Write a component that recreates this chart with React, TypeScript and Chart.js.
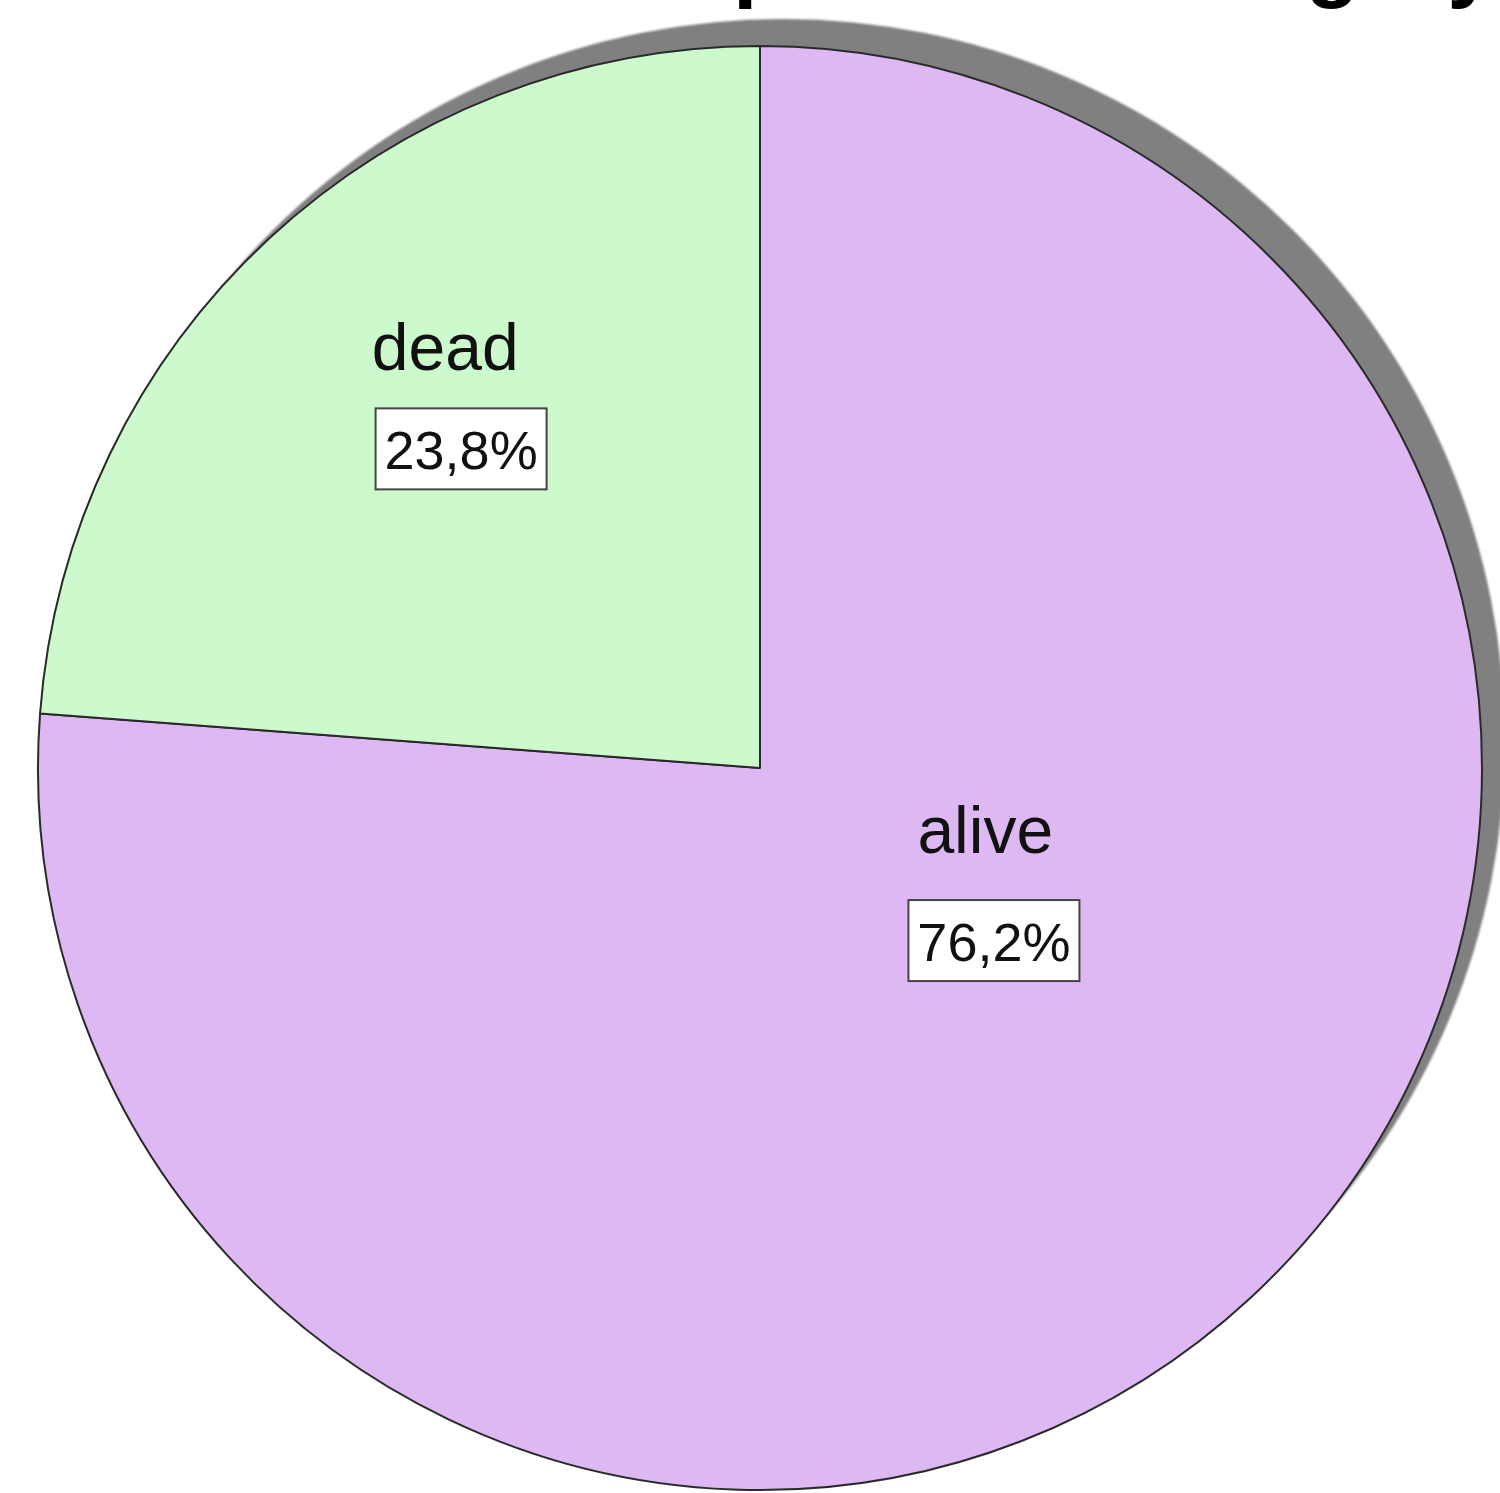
import React, { useEffect, useRef } from "react";
import { Chart, registerables } from "chart.js";

Chart.register(...registerables);

// Outcome categories and their share of patients (%)
const categories = ["alive", "dead"];
const percentages = [76.2, 23.8];
const sliceColors = ["#DDB8F2", "#CCFACC"];

const titleText = "Survival status per renal category";

// Label placement, in units of the pie radius, relative to the pie centre
const namePlacement = [
  [0.312, 0.118],
  [-0.436, -0.551],
];
const boxPlacement = [
  [0.324, 0.239],
  [-0.414, -0.442],
];

const FONT = "'Liberation Sans', Arial, Helvetica, sans-serif";

const formatPercent = (v: number) => v.toFixed(1).replace(".", ",") + "%";

const shadowPlugin = {
  id: "pieShadow",
  beforeDatasetsDraw(chart: any) {
    const arc = chart.getDatasetMeta(0).data[0];
    if (!arc) return;
    const ctx = chart.ctx;
    ctx.save();
    ctx.fillStyle = "#808080";
    ctx.filter = "blur(1px)";
    ctx.beginPath();
    ctx.arc(arc.x + 23, arc.y - 27, arc.outerRadius, 0, Math.PI * 2);
    ctx.fill();
    ctx.restore();
  },
};

const labelPlugin = {
  id: "sliceLabels",
  afterDatasetsDraw(chart: any) {
    const meta = chart.getDatasetMeta(0);
    const ctx = chart.ctx;
    const values = chart.data.datasets[0].data as number[];
    meta.data.forEach((arc: any, i: number) => {
      const r = arc.outerRadius;
      const nx = arc.x + namePlacement[i][0] * r;
      const ny = arc.y + namePlacement[i][1] * r;
      ctx.save();
      ctx.fillStyle = "#111111";
      ctx.font = `66px ${FONT}`;
      ctx.textAlign = "center";
      ctx.textBaseline = "alphabetic";
      ctx.fillText(chart.data.labels[i], nx, ny);

      const bx = arc.x + boxPlacement[i][0] * r;
      const by = arc.y + boxPlacement[i][1] * r;
      const bw = 171;
      const bh = 81;
      ctx.fillStyle = "#ffffff";
      ctx.fillRect(bx - bw / 2, by - bh / 2, bw, bh);
      ctx.strokeStyle = "#444444";
      ctx.lineWidth = 2;
      ctx.strokeRect(bx - bw / 2, by - bh / 2, bw, bh);
      ctx.fillStyle = "#111111";
      ctx.font = `54px ${FONT}`;
      ctx.fillText(formatPercent(values[i]), bx, by + 20);
      ctx.restore();
    });
  },
};

const titlePlugin = {
  id: "topTitle",
  afterDraw(chart: any) {
    const arc = chart.getDatasetMeta(0).data[0];
    if (!arc) return;
    const ctx = chart.ctx;
    ctx.save();
    ctx.font = `bold 88px ${FONT}`;
    ctx.fillStyle = "#000000";
    ctx.textAlign = "left";
    ctx.textBaseline = "alphabetic";
    const lead = ctx.measureText("Survival status ").width;
    const pHalf = ctx.measureText("p").width / 2;
    ctx.fillText(titleText, arc.x - lead - pHalf, -9);
    ctx.restore();
  },
};

export default function App() {
  const canvasRef = useRef<HTMLCanvasElement | null>(null);

  useEffect(() => {
    if (!canvasRef.current) return;
    const chart = new Chart(canvasRef.current, {
      type: "pie",
      data: {
        labels: categories,
        datasets: [
          {
            data: percentages,
            backgroundColor: sliceColors,
            borderColor: "#2a2a2a",
            borderWidth: 2,
            radius: 722,
          } as any,
        ],
      },
      options: {
        responsive: false,
        animation: false,
        devicePixelRatio: 1,
        rotation: 0,
        layout: { padding: { left: 20, top: 43, right: 0, bottom: 0 } },
        plugins: {
          legend: { display: false },
          tooltip: { enabled: false },
          title: { display: false },
        },
      },
      plugins: [shadowPlugin, labelPlugin, titlePlugin],
    });
    return () => chart.destroy();
  }, []);

  return (
    <div
      style={{
        position: "absolute",
        left: 0,
        top: 0,
        width: 1500,
        height: 1493,
        background: "#ffffff",
      }}
    >
      <canvas ref={canvasRef} width={1500} height={1493} />
    </div>
  );
}
